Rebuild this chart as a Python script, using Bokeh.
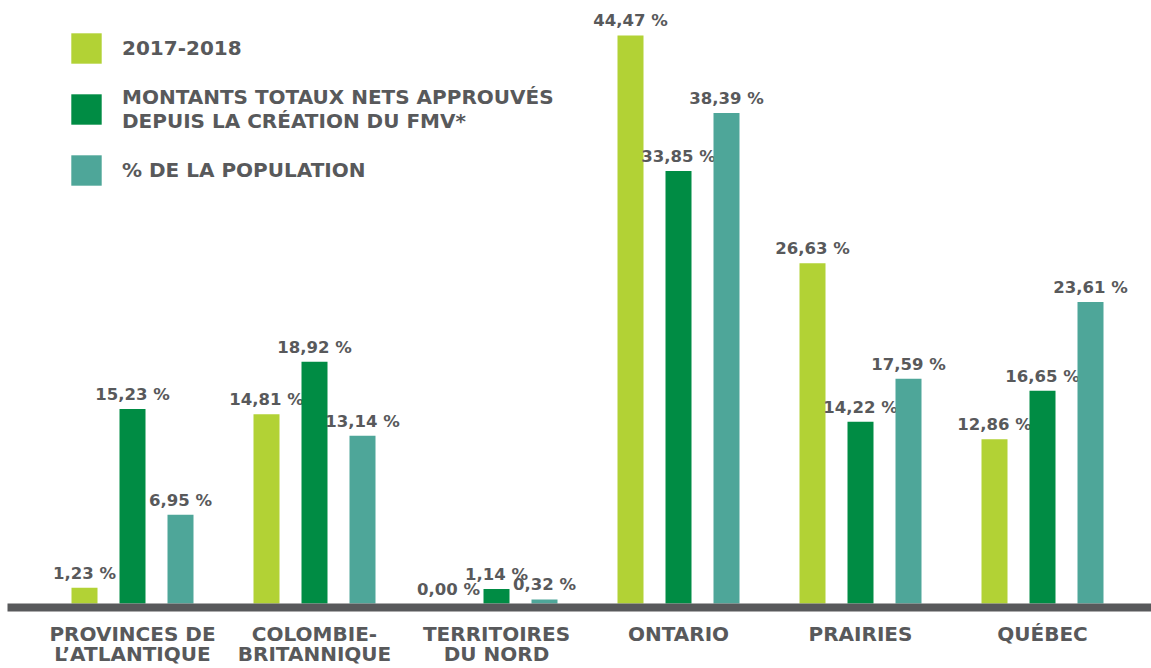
from bokeh.plotting import figure
from bokeh.models import ColumnDataSource, Legend, LegendItem, FixedTicker, Range1d
from bokeh.core.properties import value
from bokeh.transform import dodge
from bokeh.embed import file_html
from bokeh.resources import INLINE

regions = ["PROVINCES DE\nL\u2019ATLANTIQUE", "COLOMBIE-\nBRITANNIQUE", "TERRITOIRES\nDU NORD",
           "ONTARIO", "PRAIRIES", "QUÉBEC"]
s2017 = [1.23, 14.81, 0.00, 44.47, 26.63, 12.86]
total_fmv = [15.23, 18.92, 1.14, 33.85, 14.22, 16.65]
population = [6.95, 13.14, 0.32, 38.39, 17.59, 23.61]
series_names = ["2017-2018", "MONTANTS TOTAUX NETS APPROUVÉS\nDEPUIS LA CRÉATION DU FMV*", "% DE LA POPULATION"]
colors = ["#b2d235", "#008c44", "#4ea699"]

def fmt(v):
    return f"{v:.2f}".replace(".", ",") + " %"

x = list(range(len(regions)))
src = ColumnDataSource(dict(
    x=x, a=s2017, b=total_fmv, c=population,
    la=[fmt(v) for v in s2017], lb=[fmt(v) for v in total_fmv], lc=[fmt(v) for v in population],
))

FONT = "DejaVu Sans"
GRAY = "#58595b"
GP = 182.0      # px per group
YS = 12.795     # px per percent
W, H = 1151, 668
FH = 608
p = figure(width=W, height=H, output_backend="svg", toolbar_location=None,
           x_range=Range1d(-132 / GP, (W - 132) / GP),
           y_range=Range1d(-4 / YS, 604 / YS),
           min_border_left=0, min_border_right=0, min_border_top=0, min_border_bottom=H - FH)
p.outline_line_color = None
p.xgrid.visible = False
p.ygrid.visible = False
p.yaxis.visible = False
p.background_fill_color = "white"

off = 48 / GP
bw = 26 / GP
rends = []
for col, lab, o, c in [("a", "la", -off, colors[0]), ("b", "lb", 0.0, colors[1]), ("c", "lc", off, colors[2])]:
    r = p.vbar(x=dodge("x", o, range=p.x_range), top=col, width=bw, bottom=0, source=src,
               fill_color=c, line_color=None)
    rends.append(r)
    p.text(x=dodge("x", o, range=p.x_range), y=col, text=lab, source=src,
           text_align="center", text_baseline="bottom", y_offset=-5,
           text_font=value(FONT), text_font_style="bold", text_font_size="16.5px",
           text_color=GRAY)

xa = p.xaxis[0]
xa.ticker = FixedTicker(ticks=x)
xa.major_label_overrides = {i: r for i, r in zip(x, regions)}
xa.bounds = ((7 - 132) / GP, (W - 132) / GP)
xa.axis_line_color = GRAY
xa.axis_line_width = 8
xa.major_tick_line_color = None
xa.minor_tick_line_color = None
xa.major_tick_out = 0
xa.major_label_standoff = 14
xa.major_label_text_font = FONT
xa.major_label_text_font_style = "bold"
xa.major_label_text_font_size = "20px"
xa.major_label_text_color = GRAY
xa.major_label_text_line_height = 0.85

GL = 38
legend = Legend(items=[LegendItem(label=n, renderers=[r]) for n, r in zip(series_names, rends)],
                location=(67, 418))
legend.glyph_width = GL
legend.glyph_height = GL
legend.label_standoff = 17
legend.label_text_font = FONT
legend.label_text_font_style = "bold"
legend.label_text_font_size = "20px"
legend.label_text_color = GRAY
legend.label_text_line_height = 1.3
legend.spacing = 18
legend.padding = 0
legend.margin = 0
legend.border_line_color = None
legend.background_fill_alpha = 0
p.add_layout(legend, "center")

open("out.html", "w").write(file_html(p, INLINE))
